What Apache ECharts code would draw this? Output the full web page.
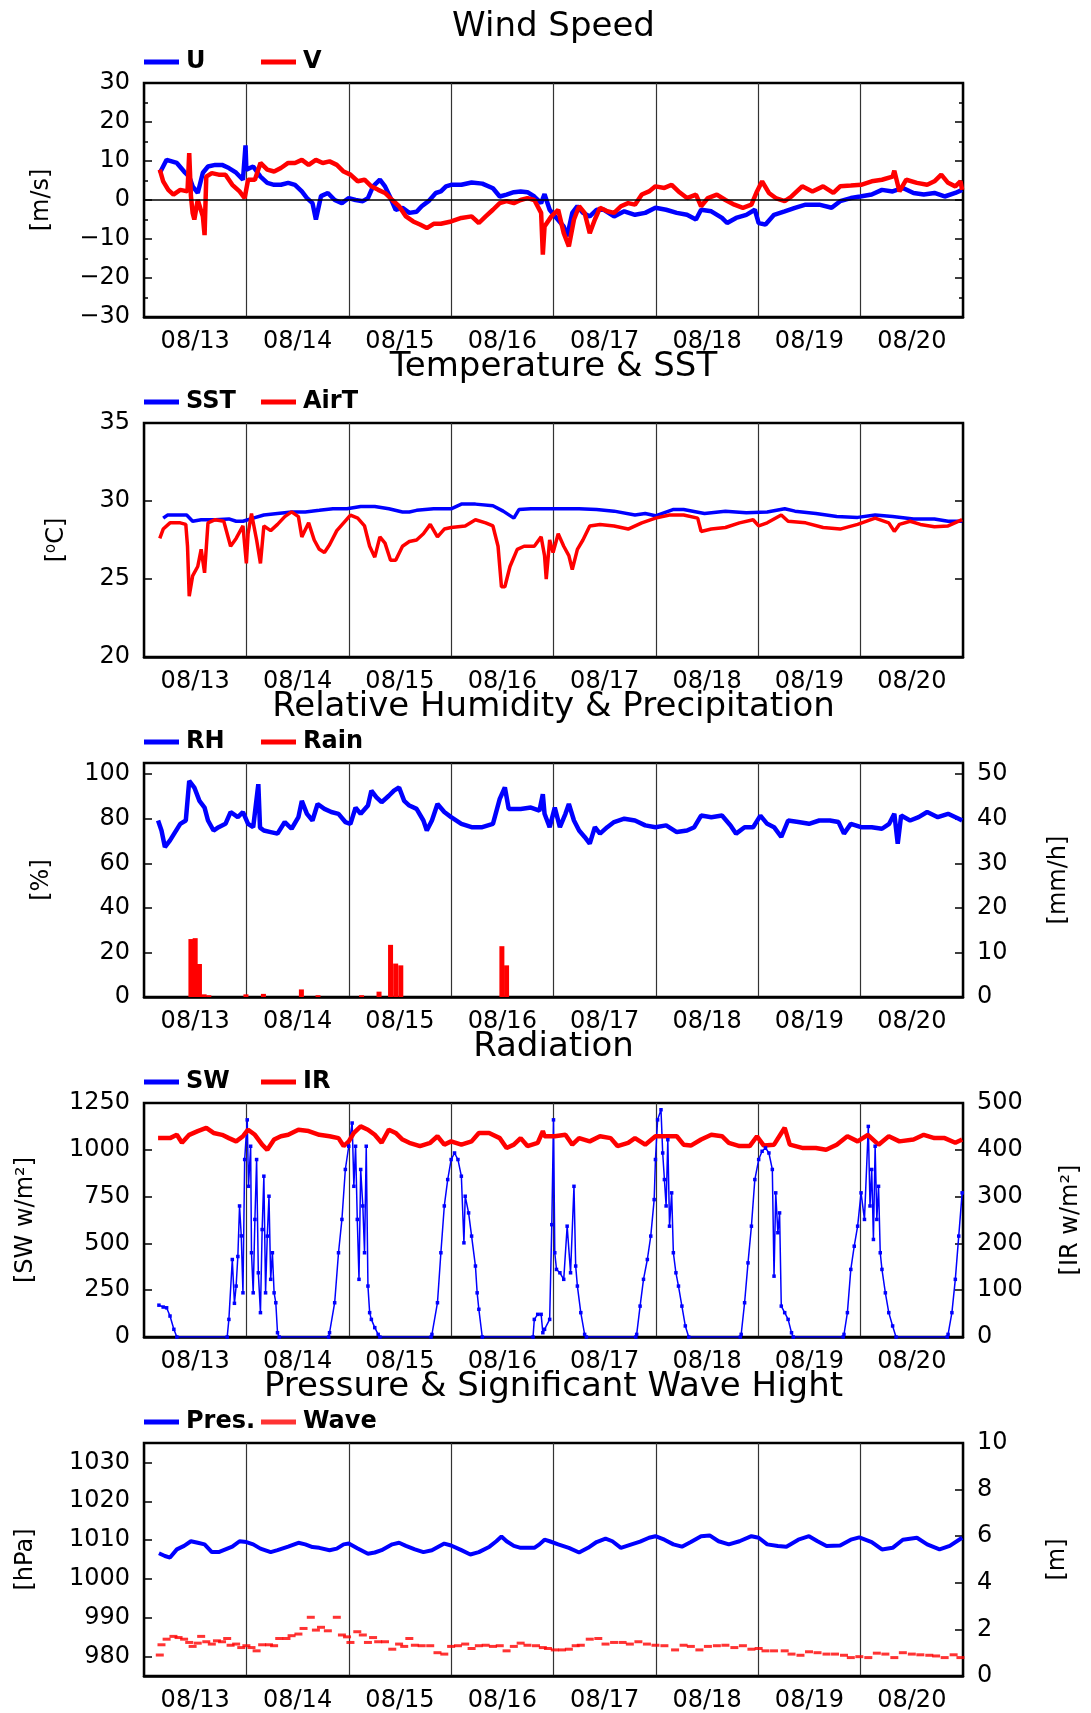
<!DOCTYPE html>
<html>
<head>
<meta charset="utf-8">
<title>Surface Meteorology 08/13 - 08/20</title>
<script src="https://cdn.jsdelivr.net/npm/echarts@6/dist/echarts.min.js"></script>
<style>
  html, body { margin: 0; padding: 0; background: #ffffff; }
  #chart { width: 1091px; height: 1713px; }
</style>
</head>
<body>
<div id="chart"></div>
<script>
// ---- data: time is hours since 08/13 00:00 ----
const dayLabels = ['08/13', '08/14', '08/15', '08/16', '08/17', '08/18', '08/19', '08/20'];

// Wind components [m/s]
const windU = [[3.7,6.9],[5.3,10.3],[7.7,9.5],[9.4,7.3],[10.6,6],[11.4,3.5],[12.6,1.8],[13.8,7],[15,8.6],[16.7,9],[18.3,9],[19.9,8.2],[21.6,7],[23.2,5.2],[23.8,14],[24,7.8],[25.6,8.6],[27.3,6],[28.9,4.4],[30.5,3.9],[32.1,3.9],[33.8,4.4],[35.4,3.9],[37,2.2],[38.2,0.5],[39.5,-0.8],[40.3,-5],[41.5,1],[43.1,1.8],[44.7,0],[46.4,-0.8],[48,0.5],[49.6,0],[51.3,-0.3],[52.5,0.5],[53.7,3.5],[55.3,5.2],[56.5,3.5],[57.8,0.5],[59,-2.5],[60.6,-2],[62.2,-3.3],[63.9,-3],[65.1,-1.6],[66.7,-0.3],[68.4,1.8],[69.6,2.2],[70.8,3.5],[72,3.9],[74.4,3.9],[76.8,4.5],[79.3,4.2],[81.8,3],[83.4,0.9],[85,1.4],[86.7,2],[88.3,2.2],[89.9,2],[91.5,0.9],[93.1,-0.8],[93.9,1.5],[95.1,-2.5],[96.7,-4.6],[98.4,-6.8],[99.2,-9.3],[100.4,-3.3],[101.6,-1.6],[102.9,-3.3],[104.5,-4.2],[106.1,-2.5],[107.8,-2.5],[110.2,-4.2],[112.6,-2.9],[115.1,-3.8],[117.5,-3.3],[119.9,-2],[122.4,-2.5],[124.9,-3.3],[127.3,-3.8],[129.4,-5],[130.6,-2.5],[133,-2.9],[135.5,-4.6],[136.7,-5.9],[138.8,-4.6],[141.2,-3.8],[143.2,-2.5],[144.1,-5.9],[145.7,-6.3],[147.7,-3.8],[150.2,-2.9],[152.6,-2],[155.1,-1.2],[158.3,-1.2],[161.2,-2],[163.2,-0.3],[165.7,0.5],[167.9,0.9],[170.6,1.4],[173,2.6],[175.5,2.2],[177.9,3.1],[180.4,1.8],[182.8,1.4],[185.3,1.8],[187.7,0.9],[190.2,1.8],[191.8,2.6]];
const windV = [[3.7,7.8],[4.5,4.8],[5.7,2.6],[6.9,1.4],[8.5,2.6],[10.2,2.2],[10.6,12],[11,1],[11.4,-3.3],[11.8,-5],[12.6,0],[13.8,-4.2],[14.2,-9],[14.6,6],[15.9,6.9],[17.5,6.5],[19.1,6.5],[20.7,3.9],[22.4,2.2],[23.6,0.5],[24.4,5.2],[26,5.2],[27.3,9.5],[28.9,7.8],[30.5,7.3],[32.1,8.2],[33.8,9.5],[35.4,9.5],[37,10.3],[38.6,9],[40.3,10.3],[41.9,9.5],[43.5,9.9],[45.2,9],[46.8,7.3],[48.4,6.5],[50.1,4.8],[51.7,5.2],[53.3,3.5],[54.9,2.6],[56.5,1.8],[58.2,0],[59.8,-1.6],[61.4,-4.2],[63.1,-5.5],[64.7,-6.3],[66.3,-7.2],[67.9,-6.1],[69.6,-6.1],[72,-5.5],[74.4,-4.6],[76.8,-4.2],[78.5,-5.9],[80.1,-4.2],[81.8,-2.5],[83.4,-0.8],[85,-0.3],[86.7,-0.8],[88.3,0],[89.9,0.5],[91.5,0],[93.1,-3.3],[93.5,-14],[93.9,-6.8],[95.5,-4.2],[97.1,-2.5],[98.4,-8.5],[99.6,-11.9],[100.8,-5],[102,-1.6],[103.3,-3.3],[104.5,-8.5],[105.7,-5],[106.9,-2],[108.6,-2.9],[110.2,-3.3],[111.8,-1.6],[113.5,-0.8],[115.1,-1.2],[116.7,1.4],[118.4,2.2],[119.9,3.5],[122,3.1],[123.7,3.9],[125.3,2.2],[127.3,0.5],[129.4,1.4],[130.6,-1.6],[132.2,0.5],[134.3,1.4],[136.3,0],[138.4,-1.2],[140.4,-2],[142.4,-1.2],[143.7,2.2],[144.9,4.8],[146.5,1.8],[148.1,0.5],[150.2,-0.3],[151.8,0.9],[154.3,3.5],[156.7,2.2],[159.2,3.5],[161.6,1.8],[163.2,3.5],[165.7,3.7],[168.1,3.9],[170.6,4.8],[173,5.2],[175.5,6],[175.9,7.5],[177.1,2.2],[178.7,5.2],[181.2,4.4],[183.6,3.9],[185.3,4.8],[186.9,6.5],[188.5,4.4],[190.2,3.5],[191.4,4.8],[191.8,2.6]];

// Sea surface and air temperature [degC]
const sst = [[4.5,28.9],[5.5,29.1],[10,29.1],[11.4,28.7],[13.4,28.8],[16.7,28.8],[19.9,28.85],[21.6,28.7],[23.2,28.7],[25.6,28.9],[28.1,29.1],[31.3,29.2],[34.6,29.3],[37.8,29.3],[41.1,29.4],[44.3,29.5],[47.6,29.5],[50.8,29.65],[54.1,29.65],[57.4,29.5],[60.6,29.3],[62.2,29.3],[63.9,29.4],[67.9,29.5],[72,29.5],[74.4,29.8],[77.7,29.8],[81.8,29.7],[84.2,29.35],[86.7,28.9],[87.9,29.45],[90.7,29.5],[93.8,29.5],[102,29.5],[106.1,29.45],[110.2,29.35],[115.1,29.1],[117.5,29.2],[119.9,29.05],[124,29.45],[126.5,29.45],[131.4,29.2],[136.3,29.35],[141.2,29.25],[146.1,29.3],[150.2,29.5],[152.6,29.35],[157.5,29.2],[162.4,29],[167.3,28.95],[171.4,29.1],[175.5,29],[180.4,28.85],[185.3,28.85],[188.5,28.7],[191.8,28.7]];
const airT = [[3.7,27.6],[4.5,28.2],[6.1,28.6],[8.5,28.6],[9.8,28.5],[10.2,27.1],[10.6,23.9],[11.4,25.2],[12.6,25.8],[13.4,26.9],[14.2,25.4],[15,28.6],[16.7,28.8],[18.7,28.7],[20.3,27.1],[21.6,27.6],[23.2,28.4],[24,26],[24.4,27.9],[25.2,29.2],[26.4,27.5],[27.3,26],[28.1,28.4],[29.7,28.1],[31.3,28.5],[33,29],[34.6,29.3],[36.2,29],[37,27.7],[38.6,28.6],[39.9,27.5],[41.1,26.9],[42.3,26.7],[43.5,27.2],[45.2,28.1],[46.8,28.6],[48.4,29.1],[50.1,28.9],[51.7,28.4],[52.9,27.1],[54.1,26.4],[55.3,27.7],[56.5,27.3],[57.8,26.2],[59,26.2],[60.6,27.1],[62.2,27.4],[63.9,27.5],[65.5,27.9],[67.1,28.5],[68.8,27.7],[70.4,28.2],[72,28.3],[75.3,28.4],[77.7,28.8],[80.1,28.6],[81.8,28.4],[83,27.1],[83.8,24.5],[84.6,24.5],[85.8,25.8],[87.5,26.9],[89.1,27.1],[91.5,27.1],[93.1,27.7],[93.9,26.5],[94.3,25],[95.1,27.5],[95.9,26.7],[97.1,27.9],[98.4,27.1],[99.6,26.5],[100.4,25.6],[101.6,26.9],[102.9,27.5],[104.5,28.4],[106.9,28.5],[110.2,28.4],[113.5,28.2],[116.7,28.6],[119.9,28.9],[123.2,29.1],[126.5,29.1],[129.8,28.9],[130.6,28.05],[133,28.2],[136.3,28.3],[139.6,28.6],[142.8,28.8],[144.1,28.4],[146.1,28.6],[149.4,29.1],[151,28.7],[155.1,28.6],[159.2,28.3],[163.2,28.2],[167.3,28.5],[171.4,28.9],[174.6,28.6],[175.9,28.05],[177.1,28.5],[179.6,28.7],[182,28.5],[185.3,28.35],[188.5,28.4],[191.8,28.8]];

// Relative humidity [%] and hourly rain rate [mm/h]
const relHum = [[3.3,79.2],[4.1,74.7],[4.9,67.3],[6.1,70.3],[7.3,74],[8.5,77.7],[9.8,79.2],[10.6,97],[11.8,94],[13,88],[14.2,85],[15,79.2],[16.3,74.7],[17.5,76.2],[19.1,77.7],[20.3,83],[22,80.7],[23.2,83],[24.4,77.7],[25.6,76.2],[26.8,95.5],[27.2,76],[28.1,74.7],[29.7,74],[31.3,73.3],[33,78.5],[34.6,75.5],[36.2,80.7],[37,88],[38.2,82.2],[39.5,79.2],[40.7,86.6],[42.3,84.4],[43.9,83],[45.6,82.2],[47.2,78.5],[48.4,77.7],[49.6,85],[50.8,82.2],[52.5,85.9],[53.3,92.6],[54.5,89.6],[55.7,87.4],[57.4,90.3],[58.6,92.6],[59.8,94],[61,88],[62.2,85.9],[63.9,84.4],[65.5,79.2],[66.3,74.7],[67.5,79.2],[68.8,86.6],[70.4,83],[72,80.7],[74.4,77.7],[76.8,76.2],[79.3,76.2],[81.8,77.7],[83.4,88.9],[84.6,94],[85.5,84.4],[88.3,84.4],[90.7,85],[92.7,83.6],[93.5,91],[93.9,82.2],[95.1,76.2],[96.3,85],[97.5,76.2],[98.8,82.2],[99.6,86.6],[100.8,79.2],[102,74.7],[103.3,71.8],[104.5,68.8],[105.7,76.2],[106.9,73.3],[108.6,76.2],[110.2,78.5],[112.6,80],[115.1,79.2],[117.5,77],[119.9,76.2],[122.4,77],[124.9,74],[127.3,74.7],[129,76.2],[130.6,81.4],[133,80.7],[135.5,81.4],[137.5,77],[138.8,73.3],[140.8,76.2],[142.8,76.2],[144.5,81.4],[146.1,77.7],[147.7,76.2],[149.4,71.8],[151,79.2],[153.4,78.5],[155.9,77.7],[158.3,79.2],[160.8,79.2],[162.8,78.5],[164.1,73.3],[165.7,77.7],[168.1,76.2],[170.6,76.2],[173,75.5],[174.7,77.7],[175.9,82.2],[176.7,68.8],[177.5,81.4],[179.6,79.2],[181.6,80.7],[183.6,83],[186.1,80.7],[188.5,82.2],[191,80],[191.8,79.2]];
const rainRate = [[11,13],[12,13.2],[13,7.4],[14.1,0.6],[15.2,0.4],[23.9,0.6],[28,0.7],[36.9,1.7],[40.8,0.4],[51,0.4],[55.1,1.2],[57.8,11.7],[59,7.5],[60.2,7.1],[83.9,11.4],[85,7.1]];

// Short-wave radiation and long-wave (IR) radiation [W/m2]
const swRad = [[3.5,170],[4.5,160],[5.3,156],[6.1,112],[7,41],[7.7,0],[19.5,0],[19.9,94],[20.7,414],[21.2,180],[21.6,272],[22,430],[22.4,700],[22.8,540],[23.2,236],[23.6,948],[24.2,1160],[24.5,805],[25,1019],[25.2,450],[25.6,236],[26,628],[26.4,948],[26.8,343],[27.3,130],[27.7,574],[28.1,859],[28.5,236],[28.9,539],[29.3,752],[29.7,308],[30.1,450],[30.5,236],[30.9,183],[31.3,23],[31.7,0],[43.3,0],[43.5,23],[44.7,183],[45.6,450],[46.4,628],[47.2,895],[48,1019],[48.8,1143],[49.2,805],[49.6,1019],[50,628],[50.4,308],[50.8,895],[51.3,700],[51.7,450],[52.1,1019],[52.5,272],[52.9,130],[53.3,94],[54.1,50],[54.9,14],[55.3,0],[67.3,0],[67.5,14],[68.8,183],[69.6,450],[70.4,700],[71.2,841],[72,948],[72.8,983],[73.6,948],[74.4,859],[75,503],[75.3,752],[76.1,663],[76.8,539],[77.7,379],[78.1,236],[78.5,148],[79.3,0],[91.2,0],[91.5,94],[92.3,121],[93.1,121],[93.5,23],[93.9,41],[95.1,94],[95.6,600],[96,1160],[96.3,450],[96.7,361],[97.5,343],[98.4,308],[99.2,592],[100,343],[100.8,805],[101.2,379],[101.6,272],[102.4,130],[103.3,14],[103.7,0],[115.3,0],[115.5,14],[116.3,165],[117.1,308],[118,414],[118.8,539],[119.6,734],[119.9,948],[120.4,1160],[121.2,1214],[121.6,983],[122,841],[122.4,700],[122.8,1054],[123.2,592],[123.7,770],[124.1,450],[124.7,343],[125.3,272],[126.1,165],[126.9,59],[127.7,0],[139.8,0],[140,14],[140.8,183],[141.6,396],[142.4,592],[143.2,841],[144.1,948],[144.9,992],[145.7,1010],[146.5,983],[147.3,895],[147.7,325],[148.1,770],[148.6,557],[149,663],[149.4,165],[150.2,130],[151,94],[151.8,23],[152.2,0],[163.9,0],[164.1,14],[164.9,130],[165.7,361],[166.5,485],[167.3,592],[168.1,770],[168.9,628],[169.8,1125],[170.2,700],[170.6,895],[171,521],[171.4,1019],[171.8,628],[172.2,805],[172.6,450],[173,361],[173.8,236],[174.6,130],[175.5,59],[176.3,0],[188.3,0],[188.5,14],[189.4,130],[190.2,308],[191,539],[191.8,770]];
const irRad = [[3.3,425],[6.1,425],[7.7,432],[8.9,415],[10.6,432],[12.6,440],[14.6,447],[16.3,436],[18.3,432],[19.9,425],[21.6,418],[23.2,429],[24.4,443],[26,432],[27.7,411],[28.9,400],[30.5,422],[32.1,429],[33.8,432],[36.2,443],[38.6,440],[41.1,432],[43.5,429],[45.6,425],[46.8,408],[48,418],[49.2,436],[50.8,450],[52.5,443],[54.1,432],[55.7,415],[57.4,443],[59,436],[60.6,422],[62.2,415],[64.7,408],[67.1,415],[68.8,429],[70.4,411],[72,418],[74.4,411],[76.8,418],[78.5,436],[80.9,436],[83.4,425],[85,404],[86.7,411],[88.3,425],[89.9,408],[92.3,415],[93.5,440],[93.9,429],[96.3,429],[98.8,432],[100.4,411],[102,425],[104.5,418],[106.9,429],[109.4,425],[111,408],[113.5,415],[115.1,425],[117.5,411],[119.9,429],[122.4,429],[124.9,429],[126.5,411],[128.2,409],[130.6,422],[133,432],[135.5,429],[137.1,415],[139.6,408],[142,408],[143.7,429],[145.3,409],[147.7,411],[150.2,447],[151.4,411],[154.3,404],[157.5,404],[159.9,400],[162.4,411],[164.9,429],[167.3,418],[169.7,432],[172.2,411],[174.6,429],[177.1,418],[180.4,422],[182.8,432],[185.3,425],[187.7,425],[190.2,415],[191.8,422]];

// Sea-level pressure [hPa] and significant wave height [m]
const pressure = [[3.5,1006.6],[4.9,1005.9],[6.1,1005.5],[7.7,1007.6],[9.4,1008.5],[11,1009.7],[12.6,1009.3],[14.2,1008.9],[15.9,1006.9],[17.5,1006.9],[19.1,1007.6],[20.7,1008.3],[22.4,1009.7],[24,1009.5],[25.6,1008.9],[27.3,1007.8],[29.7,1006.9],[31.3,1007.4],[33.8,1008.3],[36.2,1009.3],[37.8,1008.9],[39.5,1008.2],[41.1,1008],[43.5,1007.4],[45.2,1007.8],[46.8,1008.9],[48,1009.1],[50,1007.9],[52.5,1006.5],[54.1,1006.8],[55.7,1007.4],[58.2,1008.9],[59.8,1009.3],[61.4,1008.5],[63.5,1007.6],[65.5,1006.9],[67.5,1007.4],[70.4,1009.1],[72,1008.6],[74.4,1007.4],[76.5,1006.3],[78.5,1006.9],[81,1008.3],[82.6,1009.7],[83.8,1010.9],[85,1009.7],[86.7,1008.5],[88.3,1008],[91.5,1008],[92.7,1008.9],[93.9,1010.1],[95.1,1009.7],[97.1,1008.9],[99.6,1008],[102,1006.8],[104.1,1008],[106.1,1009.5],[108.2,1010.4],[109.8,1009.7],[111.8,1008],[114.3,1008.9],[116.3,1009.6],[118.4,1010.6],[119.9,1011],[122,1010.1],[124.1,1008.9],[126.1,1008.3],[128.2,1009.5],[130.6,1011],[132.6,1011.2],[134.7,1009.7],[137.1,1008.9],[139.6,1009.7],[142.4,1011],[144.1,1010.6],[146.1,1008.9],[148.6,1008.5],[150.6,1008.3],[153.4,1010.1],[155.9,1011],[157.9,1009.7],[160,1008.5],[163.2,1008.6],[165.7,1010.1],[167.7,1010.7],[170.6,1009.5],[173,1007.6],[175.5,1008],[177.9,1010.1],[181.2,1010.6],[183.6,1008.9],[186.5,1007.6],[188.9,1008.5],[191.8,1010.6]];
const waveHeight = [[3.7,0.9],[4.1,1.34],[5.3,1.58],[6.9,1.7],[8.1,1.65],[9.4,1.58],[10.6,1.44],[11.4,1.27],[12.6,1.41],[13.4,1.7],[14.6,1.47],[15.9,1.37],[17.1,1.51],[18.3,1.47],[19.5,1.61],[20.3,1.32],[21.6,1.37],[22.8,1.22],[24,1.3],[25.2,1.22],[26.4,1.08],[27.7,1.34],[29.3,1.34],[30.5,1.3],[31.7,1.61],[33.4,1.61],[34.6,1.73],[36.2,1.8],[37.4,2.04],[39.1,2.52],[40.3,1.97],[41.5,2.09],[43.1,1.94],[45.2,2.52],[46.4,1.76],[47.6,1.68],[48.4,1.44],[50,1.9],[51.3,1.76],[52.5,1.44],[53.7,1.65],[54.9,1.47],[56.5,1.47],[58.2,1.15],[59.8,1.37],[61,1.27],[62.2,1.61],[63.5,1.32],[65.1,1.3],[67.1,1.3],[68.8,1],[70.4,0.94],[72,1.27],[73.6,1.3],[75.3,1.37],[76.8,1.18],[78.5,1.3],[80.1,1.32],[81.8,1.27],[83.4,1.3],[85,1.08],[86.7,1.27],[88.3,1.41],[89.9,1.32],[91.9,1.3],[93.5,1.22],[94.7,1.18],[96.3,1.12],[98,1.12],[99.6,1.15],[101.2,1.3],[102.4,1.32],[104.5,1.58],[106.5,1.61],[108.2,1.37],[110.2,1.44],[112.2,1.44],[113.9,1.37],[115.9,1.47],[117.9,1.37],[119.9,1.32],[122,1.3],[124.5,1.12],[126.5,1.32],[128.2,1.27],[130.2,1.12],[132.2,1.27],[134.3,1.3],[136.3,1.32],[138.4,1.22],[140.4,1.3],[142.4,1.15],[144.1,1.18],[145.7,1.08],[147.7,1.08],[150.2,1.08],[151.8,0.94],[153.9,0.89],[155.9,1.04],[157.9,1],[160,0.94],[162,0.94],[164.1,0.89],[165.7,0.79],[167.7,0.83],[169.8,0.79],[171.8,0.98],[173.8,0.94],[175.9,0.79],[177.9,1],[180,0.94],[182,0.91],[184.1,0.89],[185.7,0.86],[187.7,0.79],[189.8,0.91],[191.4,0.79]];

// Tick values for axes whose range does not start on a tick
const rhTicks = [0, 20, 40, 60, 80, 100];
const rainTicks = [0, 10, 20, 30, 40, 50];
const presTicks = [980, 990, 1000, 1010, 1020, 1030];

// ---- layout ----
const FONT = 'DejaVu Sans';
const BLUE = '#0000ff';
const RED = '#ff0000';
const PLOT_LEFT = 144, PLOT_W = 819, PLOT_H = 234;
const PANEL_STEP = 340, FIRST_TOP = 83;
const TOTAL_HOURS = 192;

const panels = [
  { title: 'Wind Speed', names: ['U', 'V'],
    left: { min: -30, max: 30, interval: 10, minor: true, name: '[m/s]', gap: 90 },
    right: { mirror: true } },
  { title: 'Temperature & SST', names: ['SST', 'AirT'],
    left: { min: 20, max: 35, interval: 5, name: '[{s|o}C]', gap: 75 },
    right: { mirror: true } },
  { title: 'Relative Humidity & Precipitation', names: ['RH', 'Rain'],
    left: { min: 0, max: 105, ticks: rhTicks, name: '[%]', gap: 90 },
    right: { min: 0, max: 52.5, ticks: rainTicks, name: '[mm/h]', gap: 84 } },
  { title: 'Radiation', names: ['SW', 'IR'],
    left: { min: 0, max: 1250, interval: 250, name: '[SW w/m\u00b2]', gap: 106 },
    right: { min: 0, max: 500, interval: 100, name: '[IR w/m\u00b2]', gap: 96 } },
  { title: 'Pressure & Significant Wave Hight', names: ['Pres.', 'Wave'],
    left: { min: 975, max: 1035, ticks: presTicks, name: '[hPa]', gap: 106 },
    right: { min: 0, max: 10, interval: 2, name: '[m]', gap: 83 } }
];

const textBase = { color: '#000', fontFamily: FONT };

// plain numbers with a true minus sign, no digit grouping
function tickText(v) {
  return v < 0 ? '\u2212' + Math.abs(v) : String(v);
}

function yAxisFor(i, cfg, side, mirrorOf) {
  const c = cfg.mirror ? mirrorOf : cfg;
  const ax = {
    type: 'value', gridIndex: i, position: side,
    min: c.min, max: c.max,
    axisLine: { show: true, lineStyle: { color: '#000', width: 2 } },
    axisTick: { show: true, inside: true, length: 8, lineStyle: { color: '#000', width: 1.5 } },
    minorTick: { show: !!c.minor, splitNumber: 2, length: 4, lineStyle: { color: '#000', width: 1.5 } },
    splitLine: { show: false },
    axisLabel: Object.assign({ show: !cfg.mirror, fontSize: 24, margin: 14, formatter: tickText }, textBase)
  };
  if (c.interval) ax.interval = c.interval;
  if (c.ticks) {
    ax.axisLabel.customValues = c.ticks;
    ax.axisTick.customValues = c.ticks;
  }
  if (!cfg.mirror) {
    ax.name = c.name;
    ax.nameLocation = 'middle';
    ax.nameRotate = 90;
    ax.nameGap = c.gap;
    ax.nameTextStyle = Object.assign({ fontSize: 24,
      rich: { s: { fontSize: 15, fontFamily: FONT, color: '#000', padding: [0, 0, 10, 0] } } }, textBase);
  }
  return ax;
}

const grid = [], xAxis = [], yAxis = [], title = [], legend = [];
panels.forEach((p, i) => {
  const top = FIRST_TOP + PANEL_STEP * i;
  grid.push({ left: PLOT_LEFT, top: top, width: PLOT_W, height: PLOT_H,
    show: true, borderColor: '#000', borderWidth: 2.5, backgroundColor: 'transparent' });
  // day labels centred on each day; split lines at midnight
  xAxis.push({
    type: 'category', gridIndex: i, data: dayLabels, boundaryGap: true, position: 'bottom',
    axisLine: { show: true, onZero: false, lineStyle: { color: '#000', width: 2.5 } },
    axisTick: { show: false },
    axisLabel: Object.assign({ interval: 0, fontSize: 24, margin: 13 }, textBase),
    splitLine: { show: true, interval: 0, lineStyle: { color: '#333', width: 1.2 } }
  });
  // continuous time axis (hours) used by the data
  xAxis.push({ type: 'value', gridIndex: i, min: 0, max: TOTAL_HOURS, show: false, position: 'top' });
  yAxis.push(yAxisFor(i, p.left, 'left'));
  yAxis.push(yAxisFor(i, p.right, 'right', p.left));
  title.push({ text: p.title, left: PLOT_LEFT + PLOT_W / 2, textAlign: 'center', top: top - 73, padding: 0,
    textStyle: Object.assign({ fontSize: 34, fontWeight: 'normal' }, textBase) });
  [PLOT_LEFT, PLOT_LEFT + 117].forEach((lx, k) => {
    legend.push({ data: [p.names[k]], left: lx, top: top - 33, padding: 0, itemGap: 0,
      itemWidth: 35, itemHeight: 5, icon: 'rect', selectedMode: false,
      textStyle: Object.assign({ fontSize: 24, fontWeight: 'bold', padding: [0, 0, 0, 2] }, textBase) });
  });
});

function lineSeries(name, panel, rightAxis, data, color, width, extra) {
  return Object.assign({
    name: name, type: 'line', xAxisIndex: panel * 2 + 1, yAxisIndex: panel * 2 + (rightAxis ? 1 : 0),
    data: data, showSymbol: false, color: color, animation: false,
    lineStyle: { color: color, width: width }, clip: true
  }, extra || {});
}

const series = [
  lineSeries('U', 0, false, windU, BLUE, 4.5),
  lineSeries('V', 0, false, windV, RED, 4.5),
  // zero reference line for the wind panel
  { type: 'line', xAxisIndex: 1, yAxisIndex: 0, data: [], silent: true, z: 5, animation: false,
    markLine: { silent: true, symbol: 'none', label: { show: false }, animation: false,
      lineStyle: { color: '#000', width: 1.5, type: 'solid' }, data: [{ yAxis: 0 }] } },
  lineSeries('SST', 1, false, sst, BLUE, 3.5),
  lineSeries('AirT', 1, false, airT, RED, 3.5),
  lineSeries('RH', 2, false, relHum, BLUE, 4.5),
  { name: 'Rain', type: 'bar', xAxisIndex: 5, yAxisIndex: 5, data: rainRate, barWidth: 5,
    itemStyle: { color: RED }, color: RED, animation: false },
  lineSeries('SW', 3, false, swRad, BLUE, 1.5,
    { showSymbol: true, symbol: 'rect', symbolSize: 3.5, itemStyle: { color: BLUE } }),
  lineSeries('IR', 3, true, irRad, RED, 4.5),
  lineSeries('Pres.', 4, false, pressure, BLUE, 4),
  { name: 'Wave', type: 'scatter', xAxisIndex: 9, yAxisIndex: 9, data: waveHeight,
    symbol: 'rect', symbolSize: [8, 3], itemStyle: { color: RED }, color: RED, animation: false }
];

const chart = echarts.init(document.getElementById('chart'), null, { renderer: 'canvas' });
chart.setOption({
  backgroundColor: '#ffffff',
  animation: false,
  title: title,
  legend: legend,
  grid: grid,
  xAxis: xAxis,
  yAxis: yAxis,
  series: series
});
</script>
</body>
</html>
